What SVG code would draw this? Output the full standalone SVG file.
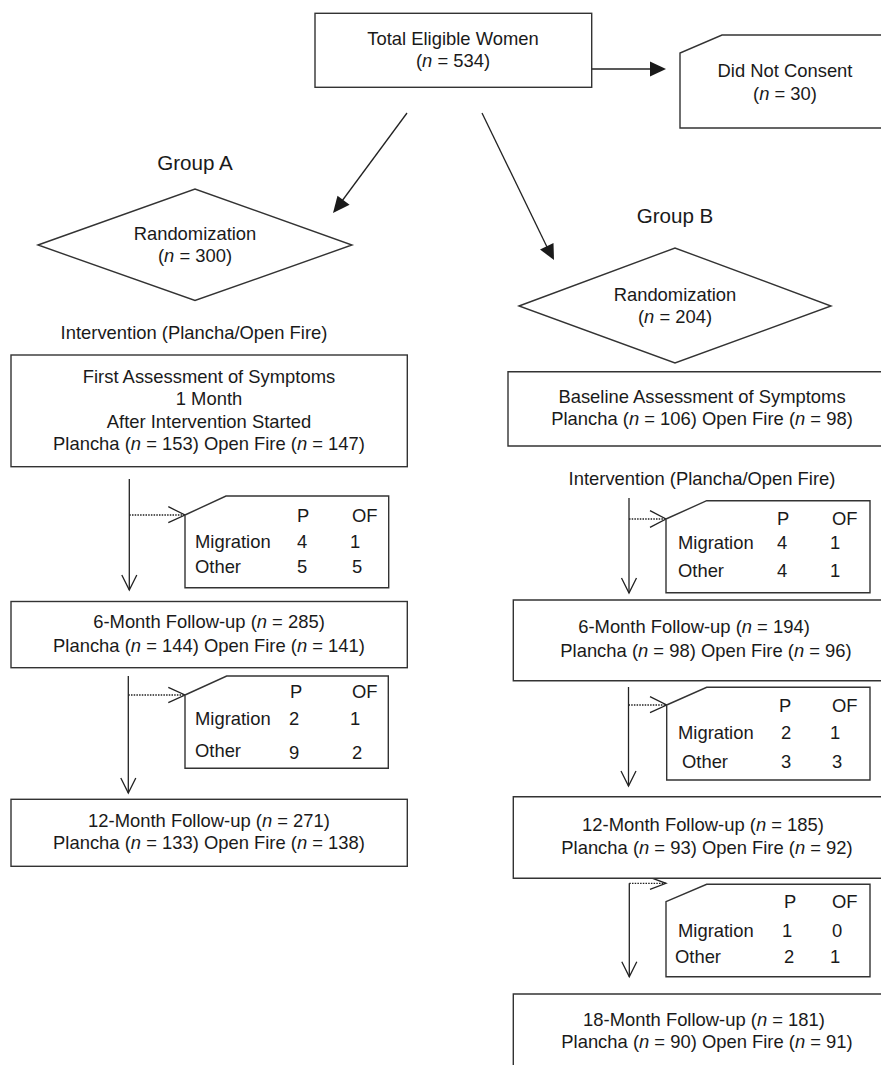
<svg xmlns="http://www.w3.org/2000/svg" width="881" height="1065" viewBox="0 0 881 1065">
<style>
text{font-family:"Liberation Sans",Arial,sans-serif;font-size:18.4px;fill:#1a1a1a}
.m{text-anchor:middle}
.g{font-size:20.6px}
.box{fill:#fff;stroke:#333;stroke-width:1.4}
.ln{fill:none;stroke:#222;stroke-width:1.3}
.dot{fill:none;stroke:#222;stroke-width:1.3;stroke-dasharray:1.5 1.2}
.fill{fill:#1a1a1a;stroke:none}
</style>
<rect width="881" height="1065" fill="#fff"/>
<g id="connectors">
<line class="ln" x1="592" y1="69" x2="652" y2="69"/>
<polygon class="fill" points="666,69 650,61.5 650,76.5"/>
<line class="ln" x1="407" y1="113" x2="342" y2="201"/>
<polygon class="fill" points="333,213 337.5,195.8 349.6,204.7"/>
<line class="ln" x1="482" y1="113" x2="547" y2="247"/>
<polygon class="fill" points="554,260 540,249.5 553.5,243"/>
<line class="ln" x1="129.3" y1="479" x2="129.3" y2="590"/>
<polyline class="ln" points="121.8,575 129.3,590 136.8,575"/>
<line class="dot" x1="129.3" y1="515" x2="185" y2="515"/>
<polyline class="ln" points="168.3,506.7 185,515 168.3,522.7"/>
<line class="ln" x1="128.3" y1="676" x2="128.3" y2="793"/>
<polyline class="ln" points="120.8,778 128.3,793 135.8,778"/>
<line class="dot" x1="128.3" y1="695" x2="185" y2="695"/>
<polyline class="ln" points="168.3,687.3 185,695 168.3,702.7"/>
<line class="ln" x1="629" y1="498" x2="629" y2="593"/>
<polyline class="ln" points="621.5,578 629,593 636.5,578"/>
<line class="dot" x1="629" y1="519" x2="666" y2="519"/>
<polyline class="ln" points="650,510.7 666,519 650,527.3"/>
<line class="ln" x1="628.5" y1="687" x2="628.5" y2="786"/>
<polyline class="ln" points="621,771 628.5,786 636,771"/>
<line class="dot" x1="628.5" y1="705" x2="666.7" y2="705"/>
<polyline class="ln" points="650,696.7 666.7,705 650,712.7"/>
<line class="ln" x1="629.3" y1="883.3" x2="629.3" y2="976.7"/>
<polyline class="ln" points="621.8,961.7 629.3,976.7 636.8,961.7"/>
<line class="dot" x1="629.3" y1="883.3" x2="666" y2="883.3"/>
<polyline class="ln" points="650,877.3 666,883.3 650,889.3"/>
</g>
<g id="total">
<rect class="box" x="315" y="13.3" width="276.7" height="74"/>
<text class="m" x="453" y="45">Total Eligible Women</text>
<text class="m" x="453" y="67">(<tspan font-style="italic">n</tspan> = 534)</text>
</g>
<g id="notconsent">
<path class="box" d="M895,35 H722 L680,53 V128 H895"/>
<text class="m" x="785" y="77">Did Not Consent</text>
<text class="m" x="785" y="100">(<tspan font-style="italic">n</tspan> = 30)</text>
</g>
<g id="randA">
<text class="m g" x="195" y="170">Group A</text>
<polygon class="box" points="38,245 195,189 352,245 195,300.5"/>
<text class="m" x="195" y="240">Randomization</text>
<text class="m" x="195" y="262">(<tspan font-style="italic">n</tspan> = 300)</text>
</g>
<g id="randB">
<text class="m g" x="675" y="223">Group B</text>
<polygon class="box" points="519,306 675,248 831,306 675,363"/>
<text class="m" x="675" y="301">Randomization</text>
<text class="m" x="675" y="323">(<tspan font-style="italic">n</tspan> = 204)</text>
</g>
<g id="intA">
<text class="m" x="194" y="339">Intervention (Plancha/Open Fire)</text>
</g>
<g id="firstA">
<rect class="box" x="11" y="355" width="396.3" height="111.7"/>
<text class="m" x="209" y="383">First Assessment of Symptoms</text>
<text class="m" x="209" y="405">1 Month</text>
<text class="m" x="209" y="428">After Intervention Started</text>
<text class="m" x="209" y="450">Plancha (<tspan font-style="italic">n</tspan> = 153) Open Fire (<tspan font-style="italic">n</tspan> = 147)</text>
</g>
<g id="lossA1">
<path class="box" d="M185,515 L226,496 H388.7 V587.7 H185 Z"/>
<text x="297" y="522">P</text><text x="352" y="522">OF</text>
<text x="195" y="548">Migration</text><text x="297" y="548">4</text><text x="350" y="548">1</text>
<text x="195" y="573">Other</text><text x="297" y="573">5</text><text x="352" y="573">5</text>
</g>
<g id="sixA">
<rect class="box" x="11" y="601.5" width="396.3" height="66.2"/>
<text class="m" x="209" y="628">6-Month Follow-up (<tspan font-style="italic">n</tspan> = 285)</text>
<text class="m" x="209" y="652">Plancha (<tspan font-style="italic">n</tspan> = 144) Open Fire (<tspan font-style="italic">n</tspan> = 141)</text>
</g>
<g id="lossA2">
<path class="box" d="M185,695 L226.7,676 H388.3 V768.3 H185 Z"/>
<text x="290" y="698">P</text><text x="352" y="698">OF</text>
<text x="195" y="725">Migration</text><text x="289" y="725">2</text><text x="350" y="725">1</text>
<text x="195" y="757">Other</text><text x="289" y="759">9</text><text x="352" y="759">2</text>
</g>
<g id="twelveA">
<rect class="box" x="11" y="799.3" width="396.3" height="67"/>
<text class="m" x="209" y="827">12-Month Follow-up (<tspan font-style="italic">n</tspan> = 271)</text>
<text class="m" x="209" y="849">Plancha (<tspan font-style="italic">n</tspan> = 133) Open Fire (<tspan font-style="italic">n</tspan> = 138)</text>
</g>
<g id="baseB">
<path class="box" d="M895,371.7 H508 V446 H895"/>
<text class="m" x="702" y="403">Baseline Assessment of Symptoms</text>
<text class="m" x="702" y="425">Plancha (<tspan font-style="italic">n</tspan> = 106) Open Fire (<tspan font-style="italic">n</tspan> = 98)</text>
</g>
<g id="intB">
<text class="m" x="702" y="485">Intervention (Plancha/Open Fire)</text>
</g>
<g id="lossB1">
<path class="box" d="M666,519 L706.7,500.7 H870 V592.7 H666 Z"/>
<text x="777" y="525">P</text><text x="832" y="525">OF</text>
<text x="678" y="549">Migration</text><text x="777" y="549">4</text><text x="830" y="549">1</text>
<text x="678" y="577">Other</text><text x="777" y="577">4</text><text x="830" y="577">1</text>
</g>
<g id="sixB">
<path class="box" d="M895,600 H513.3 V680.7 H895"/>
<text class="m" x="694" y="633">6-Month Follow-up (<tspan font-style="italic">n</tspan> = 194)</text>
<text class="m" x="706" y="657">Plancha (<tspan font-style="italic">n</tspan> = 98) Open Fire (<tspan font-style="italic">n</tspan> = 96)</text>
</g>
<g id="lossB2">
<path class="box" d="M666.7,705 L706.7,687.3 H870 V780 H666.7 Z"/>
<text x="779" y="712">P</text><text x="832" y="712">OF</text>
<text x="678" y="739">Migration</text><text x="781" y="739">2</text><text x="830" y="739">1</text>
<text x="682" y="768">Other</text><text x="781" y="768">3</text><text x="832" y="768">3</text>
</g>
<g id="twelveB">
<path class="box" d="M895,796.7 H513.3 V878.3 H895"/>
<text class="m" x="703" y="831">12-Month Follow-up (<tspan font-style="italic">n</tspan> = 185)</text>
<text class="m" x="707" y="854">Plancha (<tspan font-style="italic">n</tspan> = 93) Open Fire (<tspan font-style="italic">n</tspan> = 92)</text>
</g>
<g id="lossB3">
<path class="box" d="M666,901.7 L706.7,884.3 H870 V976.7 H666 Z"/>
<text x="784" y="908">P</text><text x="832" y="908">OF</text>
<text x="678" y="937">Migration</text><text x="782" y="937">1</text><text x="832" y="937">0</text>
<text x="675" y="963">Other</text><text x="784" y="963">2</text><text x="830" y="963">1</text>
</g>
<g id="eighteenB">
<path class="box" d="M895,994 H513.3 V1080"/>
<text class="m" x="704" y="1026">18-Month Follow-up (<tspan font-style="italic">n</tspan> = 181)</text>
<text class="m" x="707" y="1048">Plancha (<tspan font-style="italic">n</tspan> = 90) Open Fire (<tspan font-style="italic">n</tspan> = 91)</text>
</g>
</svg>
